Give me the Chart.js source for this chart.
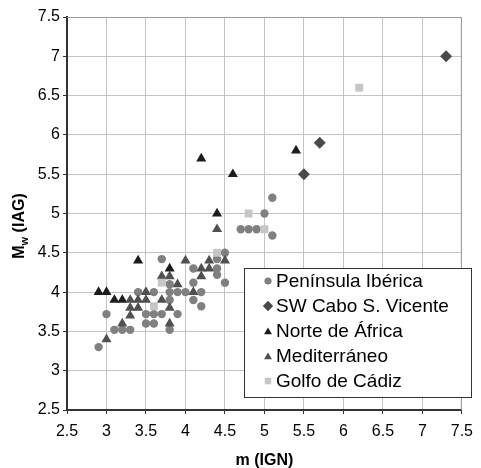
<!DOCTYPE html>
<html>
<head>
<meta charset="utf-8">
<script src="https://cdn.jsdelivr.net/npm/chart.js@4.4.1/dist/chart.umd.min.js"></script>
<style>
  html, body { margin: 0; padding: 0; background: #fff; }
  #wrap { width: 481px; height: 468px; }
</style>
</head>
<body>
<div id="wrap"><canvas id="chart" width="481" height="468"></canvas></div>
<script>
// values: m (IGN) on x, Mw (IAG) on y
const ibericaX = [2.9, 3.0, 3.1, 3.2, 3.3, 3.4, 3.5, 3.5, 3.6, 3.6, 3.6, 3.7, 3.7, 3.8, 3.8, 3.8, 3.8, 3.9, 3.9, 4.0, 4.1, 4.1, 4.1, 4.2, 4.2, 4.4, 4.4, 4.4, 4.5, 4.5, 4.7, 4.8, 4.9, 5.0, 5.1, 5.1];
const ibericaY = [3.3, 3.72, 3.52, 3.52, 3.52, 4.0, 3.72, 3.6, 4.0, 3.72, 3.6, 4.42, 3.72, 4.0, 4.1, 3.9, 3.52, 4.0, 3.72, 4.0, 4.3, 4.12, 3.9, 4.0, 3.82, 4.42, 4.3, 4.22, 4.5, 4.12, 4.8, 4.8, 4.8, 5.0, 5.2, 4.72];

const vicenteX = [5.5, 5.7, 7.3];
const vicenteY = [5.5, 5.9, 7.0];

const africaX = [2.9, 3.0, 3.1, 3.2, 3.4, 3.8, 4.2, 4.4, 4.6, 5.4];
const africaY = [4.0, 4.0, 3.9, 3.9, 4.4, 4.3, 5.7, 5.0, 5.5, 5.8];

const mediterraneoX = [3.0, 3.2, 3.3, 3.3, 3.3, 3.4, 3.4, 3.5, 3.5, 3.7, 3.7, 3.8, 3.8, 3.8, 3.9, 4.0, 4.1, 4.2, 4.2, 4.3, 4.3, 4.4, 4.5];
const mediterraneoY = [3.4, 3.6, 3.9, 3.8, 3.7, 3.9, 3.8, 4.0, 3.9, 4.2, 3.9, 4.2, 3.8, 3.6, 4.1, 4.4, 4.0, 4.3, 4.2, 4.4, 4.3, 4.8, 4.4];

const cadizX = [3.6, 3.7, 4.4, 4.8, 5.0, 6.2];
const cadizY = [3.82, 4.12, 4.5, 5.0, 4.8, 6.6];

const seriesLabels = ['Península Ibérica', 'SW Cabo S. Vicente', 'Norte de África', 'Mediterráneo', 'Golfo de Cádiz'];
const axisMin = 2.5;
const axisMax = 7.5;
const axisStep = 0.5;

const toPoints = (xs, ys) => xs.map((x, i) => ({ x, y: ys[i] }));

const FONT = '"Liberation Sans", Arial, sans-serif';

// legend box inside the plot, plus axis titles (subscript needs manual drawing)
const extras = {
  id: 'extras',
  afterDraw(chart) {
    const ctx = chart.ctx;
    const area = chart.chartArea;
    ctx.save();

    // top/right frame
    ctx.strokeStyle = '#9a9a9a';
    ctx.lineWidth = 1;
    ctx.beginPath();
    ctx.moveTo(area.left, area.top + 0.5);
    ctx.lineTo(area.right - 0.5, area.top + 0.5);
    ctx.lineTo(area.right - 0.5, area.bottom);
    ctx.stroke();

    // legend
    const bx = 244.5, by = 268.5, bw = 227, bh = 129;
    ctx.fillStyle = '#fff';
    ctx.fillRect(bx, by, bw, bh);
    ctx.strokeStyle = '#333';
    ctx.strokeRect(bx, by, bw, bh);
    ctx.font = '19px ' + FONT;
    ctx.textBaseline = 'middle';
    ctx.textAlign = 'left';
    const legendRadius = [3.6, 5.2, 4.6, 4.6, 4.6];
    chart.data.datasets.forEach((ds, i) => {
      const cy = 281 + i * 25;
      ctx.fillStyle = ds.backgroundColor;
      ctx.strokeStyle = ds.backgroundColor;
      Chart.helpers.drawPoint(ctx, {
        pointStyle: ds.pointStyle,
        radius: legendRadius[i],
        rotation: 0,
        borderWidth: 0
      }, 268, cy + (ds.pointStyle === 'triangle' ? 1 : 0));
      ctx.fillStyle = '#000';
      ctx.fillText(ds.label, 276, cy + 1);
    });

    // x title
    ctx.fillStyle = '#000';
    ctx.font = 'bold 16px ' + FONT;
    ctx.textAlign = 'center';
    ctx.textBaseline = 'alphabetic';
    ctx.fillText('m (IGN)', (area.left + area.right) / 2, 465);

    // y title: M_w (IAG)
    ctx.translate(24, 226);
    ctx.rotate(-Math.PI / 2);
    const big = 'bold 16px ' + FONT, small = 'bold 11px ' + FONT;
    ctx.font = big; const wM = ctx.measureText('M').width;
    ctx.font = small; const ww = ctx.measureText('w').width;
    ctx.font = big; const wRest = ctx.measureText(' (IAG)').width;
    let x0 = -(wM + ww + wRest) / 2;
    ctx.textAlign = 'left';
    ctx.font = big; ctx.fillText('M', x0, 0);
    ctx.font = small; ctx.fillText('w', x0 + wM, 4);
    ctx.font = big; ctx.fillText(' (IAG)', x0 + wM + ww, 0);
    ctx.restore();
  }
};

const pointSet = (label, xs, ys, color, style, radius, order) => ({
  label,
  data: toPoints(xs, ys),
  backgroundColor: color,
  borderColor: color,
  borderWidth: 0,
  pointStyle: style,
  pointRadius: radius,
  pointHoverRadius: radius,
  order
});

const tickFont = { family: FONT, size: 16 };
const plainNumber = v => String(Math.round(v * 10) / 10);

new Chart(document.getElementById('chart').getContext('2d'), {
  type: 'scatter',
  data: {
    datasets: [
      pointSet(seriesLabels[0], ibericaX, ibericaY, '#808080', 'circle', 4.2, 5),
      pointSet(seriesLabels[1], vicenteX, vicenteY, '#4a4a4a', 'rectRot', 6, 4),
      pointSet(seriesLabels[2], africaX, africaY, '#1c1c1c', 'triangle', 5.8, 3),
      pointSet(seriesLabels[3], mediterraneoX, mediterraneoY, '#505050', 'triangle', 5.8, 2),
      pointSet(seriesLabels[4], cadizX, cadizY, '#c6c6c6', 'rect', 5.6, 1)
    ]
  },
  options: {
    responsive: false,
    devicePixelRatio: 1,
    animation: false,
    layout: { padding: { top: 17, right: 11, left: 0, bottom: 0 } },
    plugins: { legend: { display: false }, tooltip: { enabled: false } },
    scales: {
      x: {
        type: 'linear',
        min: axisMin, max: axisMax,
        ticks: { stepSize: axisStep, color: '#000', font: tickFont, padding: 8, maxRotation: 0, callback: plainNumber },
        grid: { color: '#c4c4c4', tickColor: '#333', tickLength: 4 },
        border: { color: '#333', width: 2 },
        afterFit(scale) { scale.height = 58; }
      },
      y: {
        type: 'linear',
        min: axisMin, max: axisMax,
        ticks: { stepSize: axisStep, color: '#000', font: tickFont, padding: 3, callback: plainNumber },
        grid: { color: '#c4c4c4', tickColor: '#333', tickLength: 4 },
        border: { color: '#333', width: 2 },
        afterFit(scale) { scale.width = 67; }
      }
    }
  },
  plugins: [extras]
});
</script>
</body>
</html>
